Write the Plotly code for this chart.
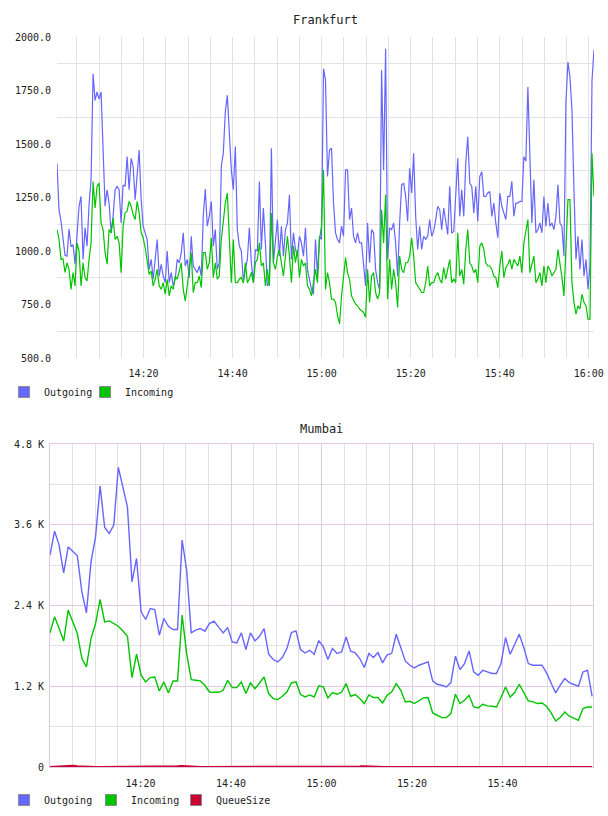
import pandas as pd
import plotly.graph_objects as go

# ---------------- data ----------------
FR_OUTGOING = [
    1410, 1193, 1140, 1060, 980, 976, 1103, 1020, 1030, 938,
    1090, 1209, 1255, 961, 1108, 1023, 1217, 1333, 1828, 1704,
    1743, 1710, 1743, 1440, 1209, 1286, 1224, 1085, 1162, 1286,
    1302, 1286, 1131, 1309, 1302, 1441, 1286, 1433, 1395, 1240,
    1379, 1472, 1240, 1116, 1085, 1054, 914, 961, 868, 976,
    1054, 883, 938, 883, 852, 1000, 852, 899, 837, 868,
    961, 945, 992, 1085, 930, 961, 876, 1069, 930, 914,
    899, 930, 883, 1162, 1289, 1116, 1162, 1232, 1023, 1100,
    914, 945, 1395, 1457, 1650, 1728, 1560, 1379, 1286, 1488,
    1100, 1023,
    1000, 860, 914, 961, 1108, 945, 852, 1007, 1000, 1325,
    1007, 1201, 1038, 837, 852, 1480, 945, 1069, 1147, 976,
    1116, 976, 1100, 1131, 1263, 961, 1085, 1007, 976, 1069,
    1038, 976, 1108, 914, 868, 821, 798, 1054, 883, 1069,
    1054, 1852, 1800, 1348, 1472, 1480, 1224, 1085, 1054, 1038,
    1116, 1069, 1379, 1379, 1147, 1201, 1069, 1038, 1085, 1038,
    1038, 945, 837, 1131, 945, 1100, 1085, 914, 852, 821,
    1844, 1379, 1945, 961, 1108, 1100, 1131, 1038, 883, 1131,
    1309, 1317, 1255, 1139, 1387, 1271, 1457, 1162, 1007, 1116,
    1007, 1069, 1054, 1069, 1147, 1069, 1093, 1147, 1209, 1193,
    1100, 1201, 1130, 1077, 1302, 1085, 1090, 1286, 1433, 1162,
    1286, 1162, 1410, 1534, 1317, 1302, 1178, 1302, 1139, 1348,
    1371, 1255, 1255, 1271, 1278, 1162, 1224, 1131, 1062, 1271,
    1209, 1178, 1147, 1255, 1255, 1325, 1162, 1224, 1224, 1232,
    1232, 1441, 1420, 1766, 1441, 1131, 1333, 1085, 1100, 1131,
    1085, 1255, 1116, 1224, 1116, 1131, 1100, 1162, 1309, 1131,
    1116, 976, 1700, 1883, 1813, 1658, 1286, 961, 1069, 914,
    1054, 883, 961, 821, 930, 1797, 1940,
]
FR_INCOMING = [
    1100, 1054, 961, 964, 900, 945, 914, 821, 899, 837,
    1038, 1000, 837, 945, 876, 860, 961, 1038, 1325, 1201,
    1302, 1317, 1131, 1100, 992, 938, 1100, 1085, 1155, 1054,
    1069, 1038, 899, 1116, 1178, 1186, 1232, 1209, 1170, 1147,
    1232, 1178, 1085, 1062, 1015, 961, 891, 906, 837, 868,
    914, 837, 821, 852, 798, 868, 790, 837, 821, 883,
    868, 906, 945, 821, 767, 837, 914, 992, 806, 852,
    852, 883, 829, 992, 992, 914, 945, 1062, 876, 945,
    868, 883, 1054, 1147, 1224, 1271, 1023, 852, 1054, 852,
    852, 868,
    876, 850, 945, 852, 870, 900, 852, 945, 961, 1038,
    930, 945, 837, 914, 837, 1178, 945, 914, 976, 1007,
    945, 883, 976, 1069, 976, 852, 1023, 945, 1007, 876,
    961, 930, 945, 837, 821, 790, 852, 914, 852, 1054,
    1116, 1379, 821, 899, 852, 775, 775, 760, 698, 659,
    790, 883, 969, 899, 868, 790, 767, 752, 744, 729,
    721, 713, 690, 914, 760, 883, 899, 806, 775, 806,
    1193, 1038, 1263, 775, 961, 821, 914, 852, 736, 976,
    914, 899, 945, 945, 976, 1062, 976, 852, 837, 821,
    806, 806, 852, 930, 837, 852, 852, 883, 899, 868,
    850, 922, 868, 914, 960, 852, 870, 852, 1085, 883,
    914, 845, 1007, 1100, 945, 930, 899, 914, 852, 1023,
    1038, 1007, 945, 930, 930, 914, 883, 876, 829, 930,
    1000, 876, 922, 938, 961, 914, 961, 945, 930, 976,
    899, 1038, 1100, 1147, 899, 945, 976, 852, 870, 899,
    837, 930, 852, 930, 914, 883, 899, 914, 1007, 945,
    876, 790, 1038, 1240, 1240, 852, 760, 705, 744, 729,
    798, 760, 744, 682, 682, 1457, 1255,
]
FR_START = "2024-01-01 14:00:34"
FR_STEP = "27s"

MU_OUTGOING = [
    3148, 3505, 3297, 2885, 3271, 3197, 3138, 2602, 2290, 3048,
    3420, 4174, 3560, 3470, 3594, 4452, 4164, 3866, 2751, 3099,
    2305, 2192, 2355, 2340, 1958, 2207, 2092, 2043, 2043, 3371,
    2925, 1993, 2033, 2058, 2018, 2132, 2167, 2083, 1993, 2073,
    1859, 1844, 1993, 1746, 1993, 1874, 1943, 2058, 1676, 1597,
    1561, 1627, 1760, 1998, 2022, 1746, 1695, 1735, 1676, 1879,
    1784, 1597, 1760, 1686, 1710, 1933, 1720, 1695, 1612, 1478,
    1686, 1627, 1700, 1547, 1666, 1686, 1973, 1775, 1572, 1512,
    1472, 1512, 1537, 1561, 1279, 1230, 1215, 1190, 1255, 1646,
    1448, 1537, 1725, 1413, 1364, 1438, 1413, 1389, 1389, 1537,
    1924, 1676, 1820, 1973, 1775, 1537, 1512, 1512, 1512, 1399,
    1249, 1100, 1215, 1314, 1254, 1225, 1200, 1413, 1438, 1051,
]
MU_INCOMING = [
    1993, 2231, 2058, 1874, 2330, 2157, 1983, 1612, 1487, 1909,
    2132, 2489, 2157, 2171, 2132, 2092, 2022, 1943, 1329, 1676,
    1364, 1264, 1329, 1338, 1130, 1264, 1100, 1279, 1279, 2256,
    1686, 1299, 1289, 1279, 1215, 1115, 1110, 1110, 1140, 1289,
    1180, 1180, 1264, 1091, 1249, 1165, 1249, 1338, 1091, 1017,
    1002, 1051, 1115, 1249, 1264, 1076, 1041, 1071, 1041, 1205,
    1190, 1027, 1106, 1081, 1110, 1240, 1051, 1076, 1017, 943,
    1071, 1032, 1032, 952, 1066, 1115, 1240, 1140, 967, 977,
    943, 992, 1027, 1032, 803, 769, 734, 734, 794, 1081,
    943, 992, 1066, 892, 878, 932, 908, 903, 892, 1032,
    1190, 1041, 1106, 1230, 1115, 982, 967, 943, 952, 903,
    803, 684, 734, 818, 754, 724, 694, 868, 892, 892,
]
MU_QUEUESIZE = [
    0, 5, 10, 15, 20, 18, 10, 5, 0, 0,
    0, 0, 0, 0, 0, 0, 0, 0, 0, 0,
    0, 0, 0, 0, 0, 0, 0, 5, 10, 15,
    10, 0, 0, 0, 0, 0, 0, 0, 0, 0,
    0, 0, 0, 0, 0, 0, 0, 0, 0, 0,
    0, 0, 0, 0, 0, 0, 0, 0, 0, 0,
    0, 0, 0, 0, 0, 0, 0, 5, 10, 12,
    12, 10, 5, 0, 0, 0, 0, 0, 0, 0,
    0, 0, 0, 0, 0, 0, 0, 0, 0, 0,
    0, 0, 0, 0, 0, 0, 0, 0, 0, 0,
    0, 0, 0, 0, 0, 0, 0, 0, 0, 0,
    0, 0, 0, 0, 0, 0, 0, 0, 0, 0,
]
MU_START = "2024-01-01 14:00:00"
MU_END = "2024-01-01 15:59:48"
MU_RANGE = ["2024-01-01 14:00:00", "2024-01-01 16:00:00"]
MU_XTICKS = ["2024-01-01 14:20", "2024-01-01 14:40", "2024-01-01 15:00",
             "2024-01-01 15:20", "2024-01-01 15:40"]
MU_YTICKS = [0, 1200, 2400, 3600, 4800]
MU_YTEXT = ["0", "1.2 K", "2.4 K", "3.6 K", "4.8 K"]

SERIES_NAMES = ["Outgoing", "Incoming", "QueueSize"]
TITLES = ["Frankfurt", "Mumbai"]

# ---------------- styling ----------------
W, H = 608, 816
BLUE = "#6666ff"
GREEN = "#00c400"
RED = "#cc0033"
GRID = "#e2e2e2"
PINK = "#e2c8e2"
FONT = "DejaVu Sans Mono"
TXT = "#222222"

def fx(p):
    return p / W

def fy(p):
    return 1 - p / H

fr_t = pd.date_range(FR_START, periods=len(FR_OUTGOING), freq=FR_STEP)
mu_t = pd.date_range(MU_START, MU_END, periods=len(MU_OUTGOING))

fig = go.Figure()

# Frankfurt lines
fig.add_trace(go.Scatter(x=fr_t, y=FR_OUTGOING, mode="lines", showlegend=False,
                         line=dict(color=BLUE, width=1.2), xaxis="x", yaxis="y"))
fig.add_trace(go.Scatter(x=fr_t, y=FR_INCOMING, mode="lines", showlegend=False,
                         line=dict(color=GREEN, width=1.2), xaxis="x", yaxis="y"))
# Mumbai lines
fig.add_trace(go.Scatter(x=mu_t, y=MU_OUTGOING, mode="lines", showlegend=False,
                         line=dict(color=BLUE, width=1.4), xaxis="x2", yaxis="y2"))
fig.add_trace(go.Scatter(x=mu_t, y=MU_INCOMING, mode="lines", showlegend=False,
                         line=dict(color=GREEN, width=1.4), xaxis="x2", yaxis="y2"))
fig.add_trace(go.Scatter(x=mu_t, y=MU_QUEUESIZE, mode="lines", showlegend=False,
                         line=dict(color=RED, width=2), xaxis="x2", yaxis="y2"))

# legend entries: one single-item legend per series, so each sits where the original does
LEGEND_SPECS = [
    # (name, colour, legend id, xaxis, yaxis, symbol-centre px, row centre px)
    (SERIES_NAMES[0], BLUE, "legend", "x", "y", 24, 392),
    (SERIES_NAMES[1], GREEN, "legend2", "x", "y", 105, 392),
    (SERIES_NAMES[0], BLUE, "legend3", "x2", "y2", 24, 800),
    (SERIES_NAMES[1], GREEN, "legend4", "x2", "y2", 111, 800),
    (SERIES_NAMES[2], RED, "legend5", "x2", "y2", 196, 800),
]

legend_layouts = {}
for name, color, lg, xa, ya, cx, cy in LEGEND_SPECS:
    fig.add_trace(go.Scatter(x=[None], y=[None], mode="markers", name=name,
                             marker=dict(symbol="square", size=11, color=color,
                                         line=dict(color="#8a8a8a", width=1)),
                             legend=lg, xaxis=xa, yaxis=ya))
    legend_layouts[lg] = dict(orientation="h", x=fx(cx - 20), y=fy(cy),
                              xanchor="left", yanchor="middle",
                              font=dict(family=FONT, size=10, color=TXT),
                              bgcolor="rgba(0,0,0,0)", itemsizing="trace")

tickfont = dict(family=FONT, size=10, color=TXT)

fig.update_layout(
    width=W, height=H,
    margin=dict(l=0, r=0, t=0, b=0),
    paper_bgcolor="white", plot_bgcolor="white",
    font=dict(family=FONT, size=10, color=TXT),
    xaxis=dict(domain=[fx(57), fx(594)], anchor="y", type="date",
               tickformat="%H:%M", tick0="2024-01-01 14:00", dtick=20 * 60 * 1000,
               showgrid=True, gridcolor=GRID, gridwidth=1, zeroline=False,
               showline=False, ticks="", tickfont=tickfont, ticklabelstandoff=8,
               minor=dict(dtick=5 * 60 * 1000, tick0="2024-01-01 14:00",
                          showgrid=True, gridcolor=GRID, gridwidth=1),
               automargin=False),
    yaxis=dict(domain=[fy(358), fy(37)], anchor="x", range=[500, 2000],
               dtick=250, tickformat=".1f", showgrid=False, zeroline=False,
               showline=False, ticks="", tickfont=tickfont, ticklabelstandoff=5,
               minor=dict(dtick=250, tick0=125, showgrid=True, gridcolor=GRID, gridwidth=1),
               automargin=False),
    xaxis2=dict(domain=[fx(50), fx(593)], anchor="y2", type="date", range=MU_RANGE,
                tickmode="array", tickvals=MU_XTICKS, tickformat="%H:%M",
                showgrid=True, gridcolor=PINK, gridwidth=1, zeroline=False,
                showline=True, linecolor=PINK, linewidth=1, mirror=True,
                ticks="", tickfont=tickfont, ticklabelstandoff=7,
                minor=dict(dtick=5 * 60 * 1000, tick0="2024-01-01 14:00",
                           showgrid=True, gridcolor=GRID, gridwidth=1),
                automargin=False),
    yaxis2=dict(domain=[fy(767), fy(444)], anchor="x2", range=[0, 4800],
                tickmode="array", tickvals=MU_YTICKS, ticktext=MU_YTEXT,
                showgrid=True, gridcolor=PINK, gridwidth=1, zeroline=False,
                showline=True, linecolor=PINK, linewidth=1, mirror=True,
                ticks="", tickfont=tickfont, ticklabelstandoff=3,
                minor=dict(dtick=1200, tick0=600, showgrid=True, gridcolor=GRID, gridwidth=1),
                automargin=False),
    annotations=[
        dict(text=TITLES[0], x=fx(325.5), y=fy(20), xref="paper", yref="paper",
             showarrow=False, xanchor="center", yanchor="middle",
             font=dict(family=FONT, size=12, color=TXT)),
        dict(text=TITLES[1], x=fx(321), y=fy(429), xref="paper", yref="paper",
             showarrow=False, xanchor="center", yanchor="middle",
             font=dict(family=FONT, size=12, color=TXT)),
    ],
    **legend_layouts,
)

fig.write_html("out.html")
